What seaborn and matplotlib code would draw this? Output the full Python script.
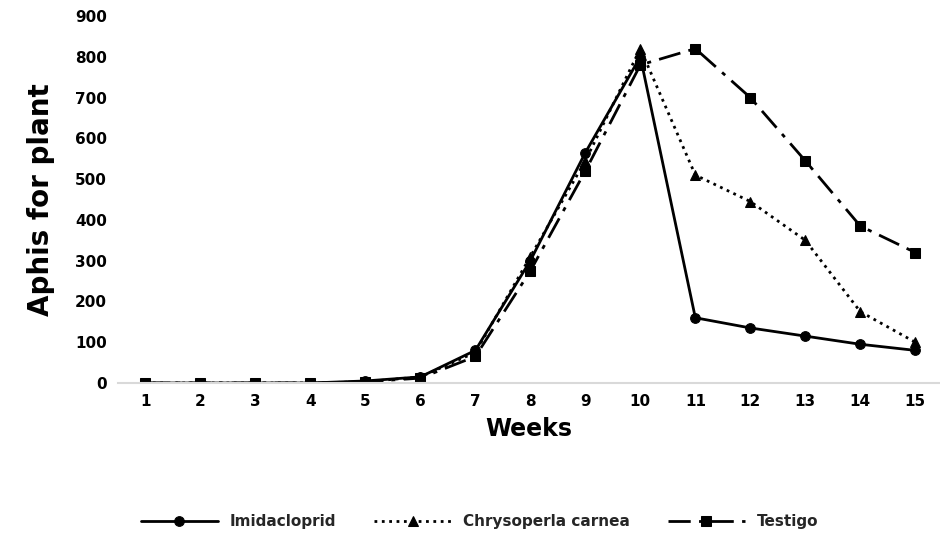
import pandas as pd
import matplotlib.pyplot as plt
import seaborn as sns

# Values
weeks = list(range(1, 16))
imidacloprid = [0, 0, 0, 0, 5, 15, 80, 300, 565, 800, 160, 135, 115, 95, 80]
chrysoperla = [0, 0, 0, 0, 3, 15, 75, 310, 545, 820, 510, 445, 350, 175, 100]
testigo = [0, 0, 0, 0, 3, 12, 65, 275, 520, 780, 820, 700, 545, 385, 320]

series_names = ['Imidacloprid', 'Chrysoperla carnea', 'Testigo']
y_ticks = list(range(0, 1000, 100))

df = pd.DataFrame({
    'week': weeks * 3,
    'aphis': imidacloprid + chrysoperla + testigo,
    'series': [n for n in series_names for _ in weeks],
})

sns.set_style('white')
plt.rcParams['font.family'] = ['DejaVu Sans']

fig = plt.figure(figsize=(9.4, 5.4), dpi=100)
ax = fig.add_axes([118 / 940, 157 / 540, 822 / 940, 367 / 540])

styles = {
    'Imidacloprid': dict(marker='o', linestyle='-', linewidth=2.0),
    'Chrysoperla carnea': dict(marker='^', linestyle=':', linewidth=2.0),
    'Testigo': dict(marker='s', linestyle=(0, (8, 3, 1.5, 3)), linewidth=2.0),
}

for name in series_names:
    sns.lineplot(data=df[df['series'] == name], x='week', y='aphis', ax=ax,
                 color='black', markersize=7, markeredgecolor='black',
                 label=name, **styles[name])

ax.set_xlim(0.5, 15.45)
ax.set_ylim(0, 900)
ax.set_xticks(weeks)
ax.set_yticks(y_ticks)
ax.tick_params(axis='both', labelsize=11, length=0, pad=8, labelcolor='black')
for lab in ax.get_xticklabels() + ax.get_yticklabels():
    lab.set_fontweight('bold')

for side in ['top', 'right', 'left']:
    ax.spines[side].set_visible(False)
ax.spines['bottom'].set_color('#d9d9d9')
ax.spines['bottom'].set_linewidth(1.5)

ax.set_xlabel('Weeks', fontsize=17, fontweight='bold', labelpad=6, color='black')
ax.set_ylabel('Aphis for plant', fontsize=20, fontweight='bold', labelpad=14, color='black')

ax.legend(loc='upper center', bbox_to_anchor=(0.44, -0.32), ncol=3,
          frameon=False, handlelength=5, columnspacing=2.5,
          prop={'weight': 'bold', 'size': 11})

fig.savefig('out.png', dpi=100)
